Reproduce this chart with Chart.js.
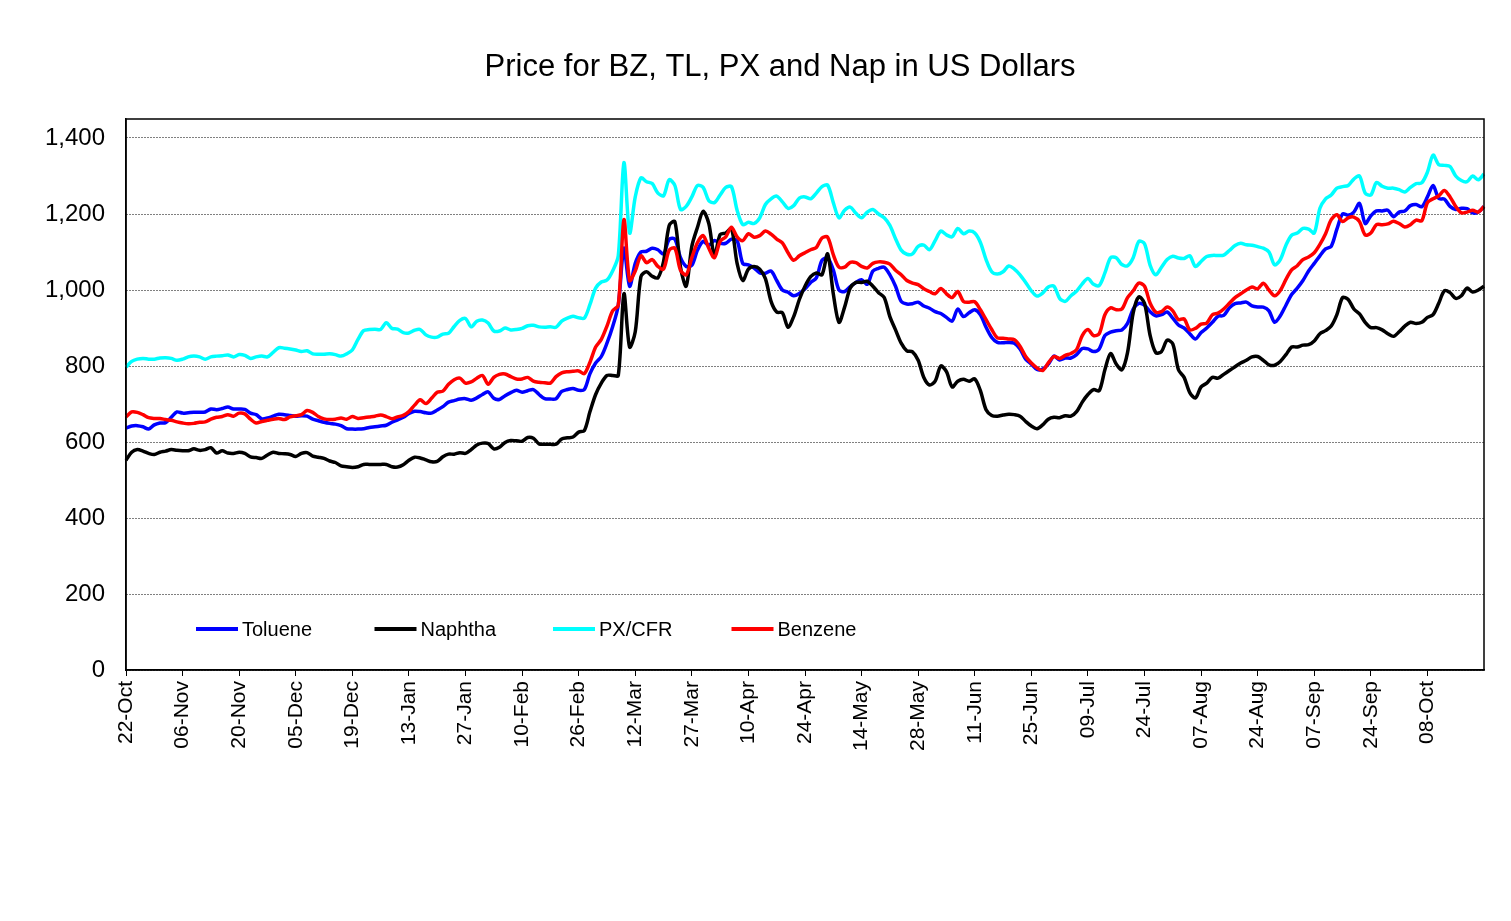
<!DOCTYPE html>
<html>
<head>
<meta charset="utf-8">
<title>Price for BZ, TL, PX and Nap in US Dollars</title>
<script src="https://cdn.jsdelivr.net/npm/chart.js@4.4.1/dist/chart.umd.min.js"></script>
<style>
  html, body { margin: 0; padding: 0; background: #fff; }
  #wrap { width: 1511px; height: 921px; }
</style>
</head>
<body>
<div id="wrap"><canvas id="chart" width="1511" height="921"></canvas></div>
<script>
const FONT = "'Liberation Sans', Arial, sans-serif";
const TITLE = "Price for BZ, TL, PX and Nap in US Dollars";

// one tick label every 10 points
const tickLabels = ["22-Oct", "06-Nov", "20-Nov", "05-Dec", "19-Dec", "13-Jan", "27-Jan", "10-Feb",
  "26-Feb", "12-Mar", "27-Mar", "10-Apr", "24-Apr", "14-May", "28-May", "11-Jun", "25-Jun",
  "09-Jul", "24-Jul", "07-Aug", "24-Aug", "07-Sep", "24-Sep", "08-Oct"];

const toluene = [
  637,642,643,640,634,645,650,651,665,679,
  676,677,678,678,679,687,685,688,692,687,
  687,686,676,672,661,663,668,673,672,670,
  668,669,668,660,656,652,649,647,643,635,
  634,634,635,638,640,642,644,652,658,665,
  675,681,680,677,676,684,693,705,709,713,
  714,710,716,725,732,715,712,722,730,736,
  731,735,738,725,714,713,714,733,738,741,
  736,738,780,808,825,860,903,960,1110,1010,
  1070,1100,1102,1110,1106,1095,1133,1134,1085,1062,
  1065,1105,1128,1118,1130,1123,1123,1134,1130,1070,
  1066,1058,1045,1044,1050,1025,1000,994,985,991,
  1003,1020,1032,1078,1084,1053,1000,996,1009,1020,
  1027,1015,1050,1057,1060,1040,1010,970,963,964,
  968,958,952,943,938,928,918,950,930,940,
  948,935,902,875,862,861,862,860,845,818,
  805,791,792,805,826,816,821,821,830,846,
  845,838,845,880,889,893,895,912,950,965,
  960,943,932,935,942,926,908,900,885,871,
  888,900,915,931,933,953,964,966,968,958,
  955,955,945,915,932,960,988,1005,1025,1050,
  1070,1090,1108,1115,1160,1200,1197,1205,1228,1175,
  1195,1208,1208,1210,1193,1205,1208,1222,1225,1219,
  1245,1275,1241,1239,1220,1212,1215,1214,1203,1205,
  1220
];

const naphtha = [
  552,573,580,576,570,567,573,576,580,578,
  577,577,582,578,580,585,571,577,571,570,
  573,570,561,559,557,566,573,570,569,567,
  562,570,572,563,560,557,550,546,537,535,
  533,535,541,541,541,541,541,535,534,540,
  552,560,558,553,548,549,561,568,568,572,
  570,580,592,597,596,582,586,599,604,603,
  602,612,610,595,594,594,594,608,611,613,
  626,630,680,725,755,775,775,775,990,850,
  890,1035,1048,1036,1032,1075,1170,1180,1060,1010,
  1115,1165,1207,1175,1090,1146,1150,1162,1070,1025,
  1055,1062,1055,1030,970,942,940,902,930,975,
  1010,1035,1045,1040,1095,990,915,955,1005,1020,
  1020,1023,1010,993,980,930,895,860,840,837,
  815,770,750,760,800,785,745,760,765,760,
  766,735,685,670,668,671,673,672,668,654,
  642,635,645,660,665,664,669,668,680,705,
  725,738,735,790,833,805,790,835,940,982,
  965,880,835,838,868,858,790,770,730,716,
  745,755,770,768,778,788,798,808,815,824,
  825,815,803,802,812,830,850,850,855,856,
  866,885,893,905,935,980,975,950,937,915,
  901,901,895,885,878,890,905,915,912,915,
  928,935,965,998,993,978,985,1005,995,1000,
  1010
];

const pxCfr = [
  797,812,818,820,818,818,821,822,820,815,
  818,824,826,824,818,824,826,827,829,824,
  830,828,820,824,826,824,836,848,847,845,
  842,838,840,832,831,831,832,830,826,832,
  842,870,893,896,897,896,914,899,897,888,
  887,894,896,882,876,876,884,886,904,920,
  925,903,918,921,913,892,892,900,895,896,
  899,906,907,903,902,903,902,918,926,931,
  927,926,962,1005,1021,1026,1050,1090,1335,1150,
  1245,1295,1285,1280,1255,1248,1290,1275,1212,1220,
  1245,1275,1270,1235,1230,1250,1270,1272,1210,1172,
  1178,1175,1190,1225,1240,1247,1232,1215,1222,1242,
  1245,1240,1255,1272,1276,1230,1190,1210,1218,1202,
  1190,1205,1212,1200,1190,1170,1135,1105,1094,1095,
  1115,1118,1106,1130,1155,1145,1140,1162,1148,1155,
  1150,1125,1080,1048,1042,1048,1063,1055,1040,1020,
  998,984,992,1008,1010,978,970,985,997,1016,
  1030,1015,1012,1045,1085,1085,1067,1064,1085,1128,
  1122,1065,1040,1060,1080,1089,1084,1083,1090,1062,
  1075,1088,1091,1091,1092,1104,1117,1123,1119,1118,
  1114,1110,1100,1066,1080,1118,1144,1150,1162,1160,
  1150,1215,1240,1250,1268,1272,1275,1292,1300,1255,
  1250,1283,1273,1268,1268,1264,1258,1270,1280,1282,
  1310,1355,1330,1328,1325,1300,1288,1285,1300,1290,
  1305
];

const benzene = [
  666,679,678,672,664,662,662,659,657,653,
  650,648,649,652,653,660,665,667,672,668,
  676,674,660,650,654,657,660,662,659,666,
  669,672,683,678,667,661,659,660,663,660,
  667,662,664,666,668,671,667,661,666,670,
  680,697,711,701,715,731,734,752,764,768,
  755,758,768,775,752,770,778,779,772,766,
  766,770,760,757,756,755,772,782,785,786,
  787,780,810,850,870,905,945,960,1185,1025,
  1050,1090,1072,1080,1062,1055,1105,1110,1052,1040,
  1085,1125,1143,1110,1085,1128,1140,1165,1140,1130,
  1148,1139,1143,1155,1147,1134,1124,1098,1078,1090,
  1098,1106,1112,1137,1139,1093,1060,1060,1073,1072,
  1062,1058,1070,1074,1073,1068,1052,1040,1025,1018,
  1014,1003,996,990,1004,990,980,996,970,968,
  969,948,922,896,874,873,871,869,852,825,
  808,795,788,808,825,820,828,833,843,880,
  896,880,885,935,953,948,950,980,998,1018,
  1010,965,942,943,955,945,922,924,895,899,
  910,913,935,939,950,965,980,990,1000,1008,
  1003,1018,1000,985,999,1028,1053,1064,1080,1087,
  1098,1120,1148,1185,1198,1180,1190,1192,1180,1145,
  1150,1172,1172,1174,1181,1175,1166,1172,1184,1182,
  1230,1240,1248,1262,1245,1220,1203,1205,1210,1205,
  1220
];

const labels = toluene.map((_, i) => (i % 10 === 0 && tickLabels[i / 10]) ? tickLabels[i / 10] : "");

function line(label, data, color, order){
  return {
    label: label,
    data: data,
    borderColor: color,
    backgroundColor: color,
    borderWidth: 3.5,
    pointRadius: 0,
    tension: 0.3,
    fill: false,
    order: order
  };
}

// title, centred a bit left of the plot centre like the original
const titleText = {
  id: "titleText",
  afterDraw(chart){
    const ctx = chart.ctx;
    ctx.save();
    ctx.font = "31px " + FONT;
    ctx.fillStyle = "#000";
    ctx.textAlign = "center";
    ctx.textBaseline = "middle";
    ctx.fillText(TITLE, 780, 67);
    ctx.restore();
  }
};

// box round the plot area
const frame = {
  id: "frame",
  afterDatasetsDraw(chart){
    const {ctx, chartArea: a} = chart;
    ctx.save();
    ctx.strokeStyle = "#000";
    ctx.lineWidth = 1.5;
    ctx.strokeRect(a.left, a.top, a.right - a.left, a.bottom - a.top);
    ctx.restore();
  }
};

// legend sits inside the plot, near the bottom
const innerLegend = {
  id: "innerLegend",
  afterDraw(chart){
    const {ctx, chartArea: a} = chart;
    const y = a.bottom - 41;
    ctx.save();
    ctx.font = "20px " + FONT;
    ctx.textBaseline = "middle";
    ctx.fillStyle = "#000";
    chart.data.datasets.forEach((ds, i) => {
      const x = a.left + 70 + i * 178.5;
      ctx.strokeStyle = ds.borderColor;
      ctx.lineWidth = 4;
      ctx.beginPath();
      ctx.moveTo(x, y);
      ctx.lineTo(x + 42, y);
      ctx.stroke();
      ctx.fillText(ds.label, x + 46, y + 1);
    });
    ctx.restore();
  }
};

const chart = new Chart(document.getElementById("chart"), {
  type: "line",
  data: {
    labels: labels,
    datasets: [
      line("Toluene", toluene, "#0000ff", 4),
      line("Naphtha", naphtha, "#000000", 3),
      line("PX/CFR", pxCfr, "#00ffff", 2),
      line("Benzene", benzene, "#ff0000", 1)
    ]
  },
  options: {
    responsive: false,
    animation: false,
    events: [],
    layout: { padding: { left: 0, right: 27, top: 119, bottom: 0 } },
    plugins: {
      legend: { display: false },
      tooltip: { enabled: false },
      title: { display: false }
    },
    scales: {
      x: {
        ticks: {
          autoSkip: false,
          minRotation: 90,
          maxRotation: 90,
          color: "#000",
          font: { family: FONT, size: 21 },
          padding: 5
        },
        grid: {
          drawOnChartArea: false,
          drawTicks: true,
          tickLength: 6,
          tickWidth: 1,
          tickColor: (c) => labels[c.index] ? "#000" : "rgba(0,0,0,0)"
        },
        border: { color: "#000", width: 1.5 },
        afterFit: (s) => { s.height = 251; s.paddingRight = 0; s.paddingLeft = 0; }
      },
      y: {
        min: 0,
        max: 1450,
        ticks: {
          stepSize: 200,
          includeBounds: false,
          color: "#000",
          font: { family: FONT, size: 24 },
          padding: 21,
          callback: (v) => v.toLocaleString("en-US")
        },
        grid: { color: "#000", lineWidth: 1, drawTicks: false },
        border: { color: "#000", width: 1.5, dash: [1, 2] },
        afterFit: (s) => { s.width = 126; }
      }
    }
  },
  plugins: [frame, innerLegend, titleText]
});
</script>
</body>
</html>
